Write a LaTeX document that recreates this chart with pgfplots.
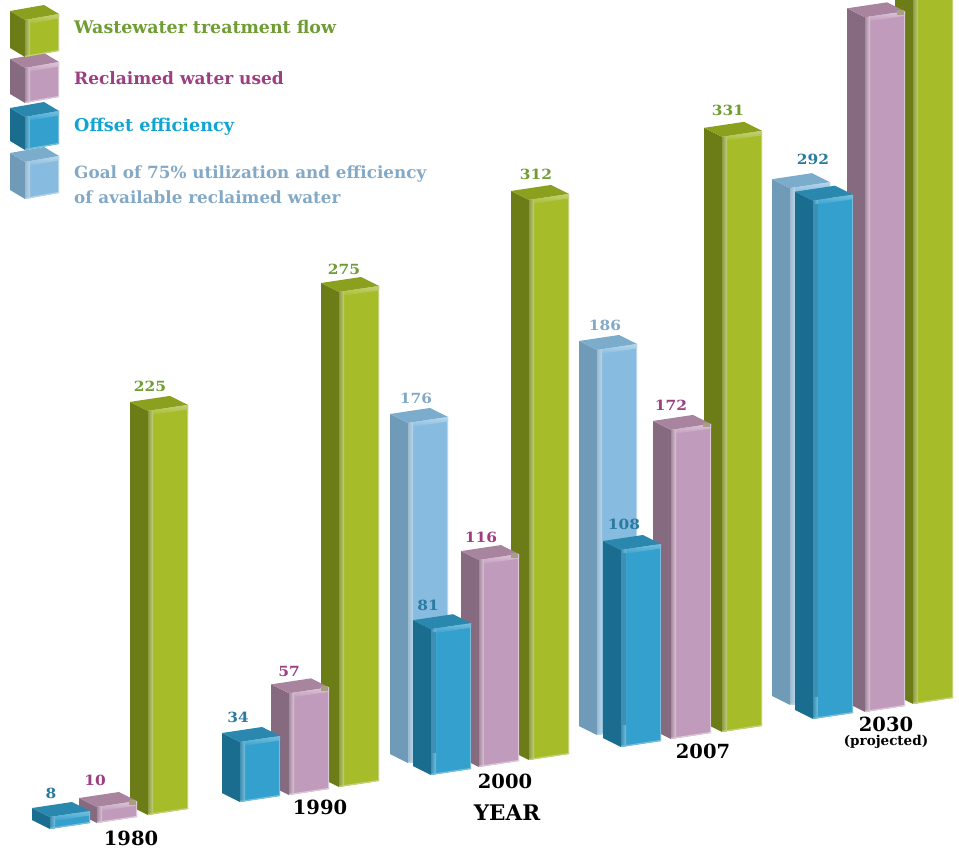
\documentclass[border=0pt]{standalone}
\usepackage{pgfplots}
\usepackage{pgfplotstable}
\usepackage{fontspec}
\pgfplotsset{compat=1.18}
\setmainfont{DejaVu Serif}

% face colours per series: W wastewater, R reclaimed, O offset, G goal
\definecolor{frontW}{HTML}{A7BC29}\definecolor{sideW}{HTML}{6C7D17}\definecolor{topW}{HTML}{8BA01E}
\definecolor{stripW}{HTML}{C3D07A}\definecolor{shadeW}{HTML}{8E9C46}\definecolor{textW}{HTML}{6F9D33}
\definecolor{frontR}{HTML}{C19BBB}\definecolor{sideR}{HTML}{866A80}\definecolor{topR}{HTML}{A8849F}
\definecolor{stripR}{HTML}{DCC6D8}\definecolor{shadeR}{HTML}{A58BA0}\definecolor{textR}{HTML}{9C3F82}
\definecolor{frontO}{HTML}{33A0CE}\definecolor{sideO}{HTML}{1B6D90}\definecolor{topO}{HTML}{2A87AE}
\definecolor{stripO}{HTML}{78BEDB}\definecolor{shadeO}{HTML}{3F8FB2}\definecolor{textO}{HTML}{2B7BA0}
\definecolor{frontG}{HTML}{87BBDF}\definecolor{sideG}{HTML}{6F9AB8}\definecolor{topG}{HTML}{7BACCC}
\definecolor{stripG}{HTML}{B7D6EC}\definecolor{shadeG}{HTML}{9CBBD0}\definecolor{textG}{HTML}{83A9C6}
\definecolor{offsetlegend}{HTML}{12A3D3}
\definecolor{tipR}{HTML}{A89F83}
\definecolor{shadowO}{HTML}{3E8FB4}

\newcommand\vfont{\fontsize{14}{14}\selectfont\bfseries}
\newcommand\yfont{\fontsize{19.5}{19.5}\selectfont\bfseries}
\newcommand\lfontsize[1]{\fontsize{#1}{#1}\selectfont\bfseries}

% one table per year: front corner of the base, value, pixels per unit, label offset, label flag
\pgfplotstableread{
ser fx  fy  val ppu   ldx ldy show
W   148 815 225 1.796 2   -24 1
R   97  823 10  1.6   -2  -27 1
O   50  829 8   1.5   1   -24 1
}\yearA
\pgfplotstableread{
ser fx  fy  val ppu   ldx ldy show
W   339 787 275 1.80  5   -23 1
R   289 795 57  1.783 0   -22 1
O   240 802 34  1.765 -2  -25 1
}\yearB
\pgfplotstableread{
ser fx  fy  val ppu   ldx ldy show
W   529 760 312 1.795 7   -26 1
R   479 767 116 1.784 2   -23 1
G   408 763 176 1.932 8   -25 1
O   431 775 81  1.80  -3  -24 1
}\yearC
\pgfplotstableread{
ser fx  fy  val ppu   ldx ldy show
W   722 732 331 1.798 6   -26 1
R   671 739 172 1.797 0   -25 1
G   597 735 186 2.07  8   -25 1
O   621 747 108 1.824 3   -26 1
}\yearD
\pgfplotstableread{
ser fx  fy  val ppu   ldx ldy show
W   913 704 410 1.79  0   0   0
R   865 712 387 1.795 0   0   0
G   790 705 292 1.77  0   0   0
O   813 719 292 1.775 0   -41 1
}\yearE

\def\sidew{18}\def\frontw{40}

% draws a bar from series, front corner x, front corner y and height in pixels
\newcommand\drawblock[4]{%
  \pgfmathsetmacro\xF{#2}\pgfmathsetmacro\yB{#3}\pgfmathsetmacro\yT{#3-#4}%
  \pgfmathsetmacro\xL{#2-\sidew}\pgfmathsetmacro\xR{#2+\frontw}\pgfmathsetmacro\xK{#2+\frontw-\sidew}%
  \pgfmathsetmacro\yLB{\yB-9}\pgfmathsetmacro\yLT{\yT-9}%
  \pgfmathsetmacro\yRB{\yB-6}\pgfmathsetmacro\yRT{\yT-6}\pgfmathsetmacro\yKT{\yT-15}%
  \pgfmathsetmacro\xS{#2+5}\pgfmathsetmacro\ySa{\yT-0.75}\pgfmathsetmacro\ySb{\yB-0.75}%
  \pgfmathsetmacro\yTi{\yT+4.5}\pgfmathsetmacro\yRi{\yRT+4.5}%
  \pgfmathsetmacro\xE{\xR-1.2}\pgfmathsetmacro\yBe{\yB-1.2}\pgfmathsetmacro\yRe{\yRB-1.2}%
  \edef\doblock{%
    \noexpand\addplot[draw=none,fill=side#1] coordinates {(\xL,\yLB)(\xF,\yB)(\xF,\yT)(\xL,\yLT)} -- cycle;
    \noexpand\addplot[draw=none,fill=top#1] coordinates {(\xL,\yLT)(\xF,\yT)(\xR,\yRT)(\xK,\yKT)} -- cycle;
    \noexpand\addplot[draw=none,fill=front#1] coordinates {(\xF,\yB)(\xR,\yRB)(\xR,\yRT)(\xF,\yT)} -- cycle;
    \noexpand\addplot[draw=none,top color=strip#1,bottom color=front#1] coordinates {(\xF,\yT)(\xR,\yRT)(\xR,\yRi)(\xF,\yTi)} -- cycle;
    \noexpand\addplot[draw=none,left color=shade#1,right color=strip#1] coordinates {(\xF,\yB)(\xS,\ySb)(\xS,\ySa)(\xF,\yT)} -- cycle;
    \noexpand\addplot[draw=none,fill=strip#1] coordinates {(\xE,\yRB)(\xR,\yRB)(\xR,\yRT)(\xE,\yRT)} -- cycle;
    \noexpand\addplot[draw=none,fill=strip#1] coordinates {(\xF,\yB)(\xR,\yRB)(\xR,\yRe)(\xF,\yBe)} -- cycle;
  }\doblock
}

% small worn corner at the right of the reclaimed-water bars
\newcommand\drawtip[2]{%
  \pgfmathsetmacro\xa{#1+32}\pgfmathsetmacro\xb{#1+39}%
  \pgfmathsetmacro\ya{#2-7}\pgfmathsetmacro\yb{#2-2.5}%
  \edef\dotip{\noexpand\addplot[draw=none,fill=tipR] coordinates {(\xa,\ya)(\xb,\ya)(\xb,\yb)(\xa,\yb)} -- cycle;}\dotip
}

% shadow down the inner edge of the tall offset bars, stopping above the base
\newcommand\drawshadow[2]{%
  \pgfmathsetmacro\xa{#1}\pgfmathsetmacro\xb{#1+5}%
  \pgfmathsetmacro\ya{#2+3}\pgfmathsetmacro\yb{\fy-22}%
  \edef\doshadow{\noexpand\addplot[draw=none,fill=shadowO] coordinates {(\xa,\ya)(\xb,\ya)(\xb,\yb)(\xa,\yb)} -- cycle;}\doshadow
}

% walks the rows of a year table, back bars first
\newcommand\drawyear[1]{%
  \pgfplotstablegetrowsof{#1}\pgfmathtruncatemacro\lastrow{\pgfplotsretval-1}%
  \pgfplotsforeachungrouped \r in {0,...,\lastrow}{%
    \pgfplotstablegetelem{\r}{ser}\of{#1}\let\ser\pgfplotsretval
    \pgfplotstablegetelem{\r}{fx}\of{#1}\let\fx\pgfplotsretval
    \pgfplotstablegetelem{\r}{fy}\of{#1}\let\fy\pgfplotsretval
    \pgfplotstablegetelem{\r}{val}\of{#1}\let\val\pgfplotsretval
    \pgfplotstablegetelem{\r}{ppu}\of{#1}\let\ppu\pgfplotsretval
    \pgfplotstablegetelem{\r}{ldx}\of{#1}\let\ldx\pgfplotsretval
    \pgfplotstablegetelem{\r}{ldy}\of{#1}\let\ldy\pgfplotsretval
    \pgfplotstablegetelem{\r}{show}\of{#1}\let\showlab\pgfplotsretval
    \pgfmathsetmacro\barh{\val*\ppu}%
    \edef\next{\noexpand\drawblock{\ser}{\fx}{\fy}{\barh}}\next
    \pgfmathsetmacro\topy{\fy-\barh}%
    \if R\ser\relax\drawtip{\fx}{\topy}\fi
    \if O\ser\relax\ifnum\val>50\relax\drawshadow{\fx}{\topy}\fi\fi
    \ifnum\showlab=1\relax
      \pgfmathsetmacro\lx{\fx+\ldx}\pgfmathsetmacro\ly{\topy+\ldy}%
      \edef\dolabel{\noexpand\node[font=\noexpand\vfont,text=text\ser,xscale=1.1] at (axis cs:\lx,\ly) {\val};}\dolabel
    \fi
  }%
}

\begin{document}
\begin{tikzpicture}
\begin{axis}[
  scale only axis, width=959pt, height=850pt,
  xmin=0, xmax=959, ymin=0, ymax=850, y dir=reverse,
  hide axis,
]
\path (axis cs:0,0) rectangle (axis cs:959,850);

% year groups, left to right
\drawyear{\yearA}
\drawyear{\yearB}
\drawyear{\yearC}
\drawyear{\yearD}
\drawyear{\yearE}

\node[font=\yfont] at (axis cs:131,838) {1980};
\node[font=\yfont] at (axis cs:320,807) {1990};
\node[font=\yfont] at (axis cs:505,781) {2000};
\node[font=\fontsize{21.5}{21.5}\selectfont\bfseries] at (axis cs:507,813) {YEAR};
\node[font=\yfont] at (axis cs:703,751) {2007};
\node[font=\yfont] at (axis cs:886,724) {2030};
\node[font=\fontsize{13.5}{13.5}\selectfont\bfseries] at (axis cs:886,742) {(projected)};

% legend swatches, stacked from the bottom up
\def\sidew{15}\def\frontw{34}
\drawblock{G}{25}{199}{37}
\drawblock{O}{25}{150}{33}
\drawblock{R}{25}{103}{35}
\drawblock{W}{25}{57}{37}

\node[font=\lfontsize{17.4},text=textW,anchor=west,inner sep=0pt] at (axis cs:74,27) {Wastewater treatment flow};
\node[font=\lfontsize{17},text=textR,anchor=west,inner sep=0pt] at (axis cs:74,78) {Reclaimed water used};
\node[font=\lfontsize{17.6},text=offsetlegend,anchor=west,inner sep=0pt] at (axis cs:74,127) {Offset efficiency};
\node[font=\lfontsize{16.8},text=textG,anchor=west,inner sep=0pt] at (axis cs:74,174) {Goal of 75\% utilization and efficiency};
\node[font=\lfontsize{16.8},text=textG,anchor=west,inner sep=0pt] at (axis cs:74,197) {of available reclaimed water};
\end{axis}
\end{tikzpicture}
\end{document}
